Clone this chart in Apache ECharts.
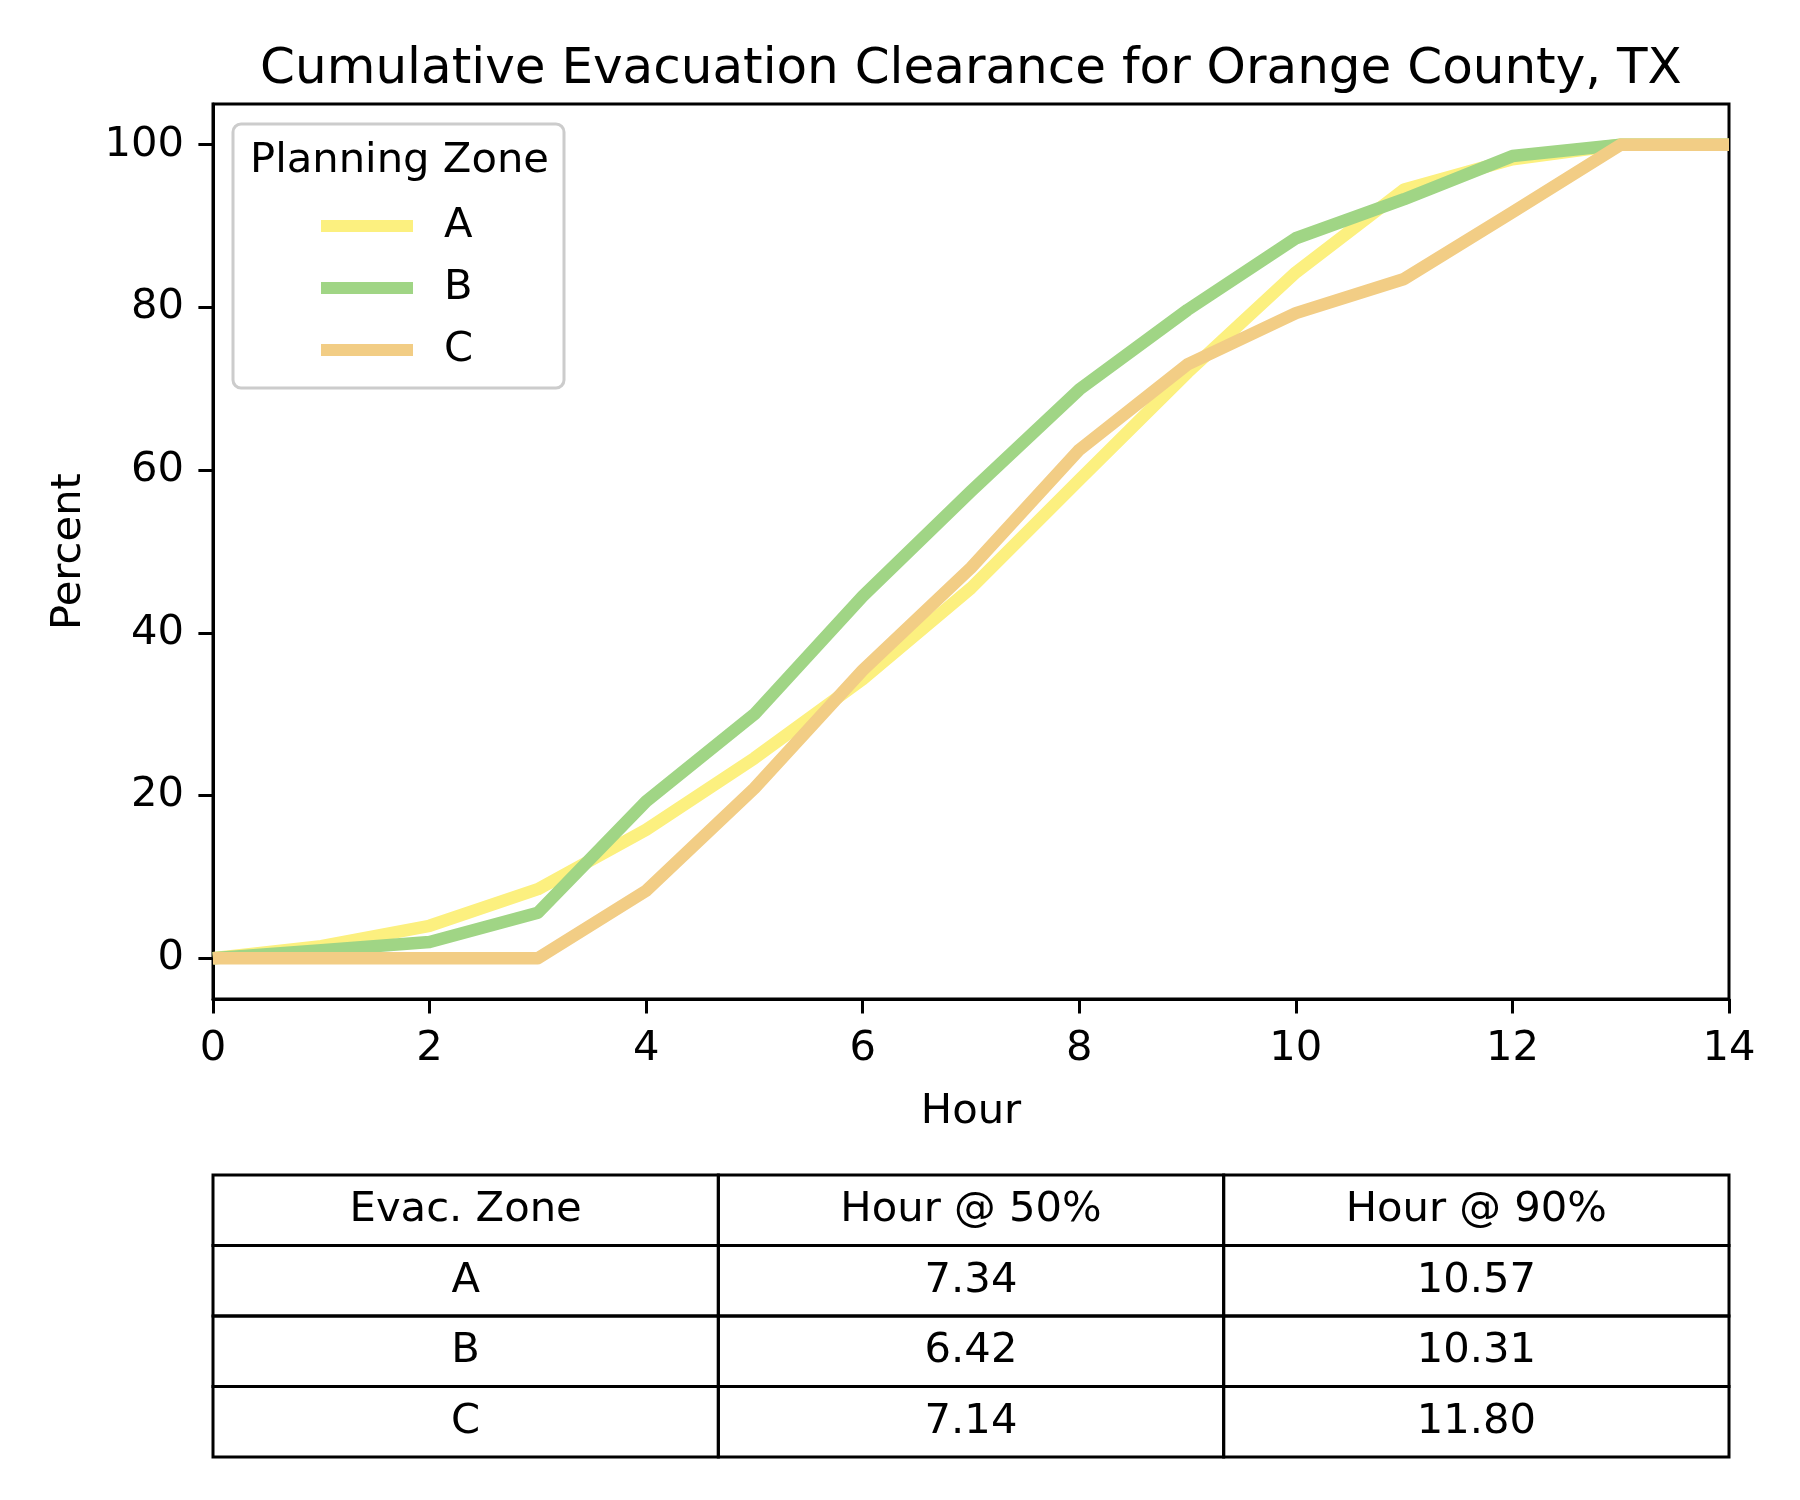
<!DOCTYPE html>
<html>
<head>
<meta charset="utf-8">
<script src="https://cdn.jsdelivr.net/npm/echarts@6/dist/echarts.min.js"></script>
<style>
html,body{margin:0;padding:0;background:#fff;}
#chart{width:1800px;height:1500px;}
</style>
</head>
<body>
<div id="chart"></div>
<script>
// ---- data ----
const hours = [0,1,2,3,4,5,6,7,8,9,10,11,12,13,14];
const zoneNames = ['A','B','C'];
const zoneA = [0,1.5,4,8.5,15.8,24.6,34.3,45.5,58.8,72,84.3,94.5,98.2,100,100];
const zoneB = [0,1,2,5.6,19.3,30,44.5,57.4,69.9,79.7,88.5,93.3,98.6,100,100];
const zoneC = [0,0,0,0,8.3,20.9,35.4,48,62.5,73,79.3,83.5,91.7,100,100];
const yTicks = [0,20,40,60,80,100];
const tableHeader = ['Evac. Zone','Hour @ 50%','Hour @ 90%'];
const tableZones = ['A','B','C'];
const hour50 = ['7.34','6.42','7.14'];
const hour90 = ['10.57','10.31','11.80'];

// ---- styling ----
const FONT = 'DejaVu Sans';
const colors = ['#fcf07f','#a0d585','#f2cd85'];
const fs = 41.7;
const plotL = 213, plotR = 1729, plotT = 104, plotB = 999;

function pairs(vals){ return hours.map((h,i)=>[h, vals[i]]); }
const seriesVals = [zoneA, zoneB, zoneC];

// table graphic built from arrays
const tTop = 1175, tBot = 1457, tL = plotL, tR = plotR;
const rows = [tableHeader].concat(tableZones.map((z,i)=>[z, hour50[i], hour90[i]]));
const rowH = (tBot - tTop) / rows.length;
const colW = (tR - tL) / 3;
const tableGraphics = [];
rows.forEach((r, ri) => {
  r.forEach((cell, ci) => {
    tableGraphics.push({
      type: 'rect',
      shape: {x: tL + ci*colW, y: tTop + ri*rowH, width: colW, height: rowH},
      style: {fill: 'none', stroke: '#000', lineWidth: 3},
      z: 10
    });
    tableGraphics.push({
      type: 'text',
      x: tL + ci*colW + colW/2,
      y: tTop + ri*rowH + rowH/2,
      style: {text: cell, font: fs + 'px "' + FONT + '"', fill: '#000', align: 'center', verticalAlign: 'middle'},
      z: 11
    });
  });
});

const chart = echarts.init(document.getElementById('chart'), null, {renderer: 'canvas'});
chart.setOption({
  backgroundColor: '#fff',
  animation: false,
  textStyle: {fontFamily: FONT, color: '#000'},
  title: {
    text: 'Cumulative Evacuation Clearance for Orange County, TX',
    left: (plotL + plotR)/2 - 5, top: 40, textAlign: 'center',
    textStyle: {fontFamily: FONT, fontSize: 50, fontWeight: 'normal', color: '#000'}
  },
  grid: {
    left: plotL, top: plotT, width: plotR - plotL, height: plotB - plotT,
    show: true, borderColor: '#000', borderWidth: 3, backgroundColor: 'transparent'
  },
  legend: {
    data: zoneNames,
    orient: 'vertical',
    left: 316, top: 196,
    itemWidth: 92, itemHeight: 12, itemGap: 12,
    icon: 'rect',
    textStyle: {fontFamily: FONT, fontSize: fs, color: '#000', lineHeight: 50, padding: [0,0,0,26]},
    z: 20
  },
  xAxis: {
    type: 'value', min: 0, max: 14, interval: 2,
    name: 'Hour', nameLocation: 'middle', nameGap: 92,
    nameTextStyle: {fontFamily: FONT, fontSize: fs, color: '#000'},
    axisLine: {show: true, onZero: false, lineStyle: {color: '#000', width: 3}},
    axisTick: {show: true, length: 14.6, lineStyle: {color: '#000', width: 3}},
    axisLabel: {fontFamily: FONT, fontSize: fs, color: '#000', margin: 29},
    splitLine: {show: false}
  },
  yAxis: {
    type: 'value', min: -5, max: 105,
    name: 'Percent', nameLocation: 'middle', nameGap: 123,
    nameTextStyle: {fontFamily: FONT, fontSize: fs, color: '#000'},
    axisLine: {show: true, onZero: false, lineStyle: {color: '#000', width: 3}},
    axisLabel: {fontFamily: FONT, fontSize: fs, color: '#000', margin: 29, customValues: yTicks},
    axisTick: {show: true, length: 14.6, lineStyle: {color: '#000', width: 3}, customValues: yTicks},
    splitLine: {show: false}
  },
  graphic: [
    {
      type: 'rect',
      shape: {x: 233, y: 124, width: 331, height: 264, r: 8},
      style: {fill: 'rgba(255,255,255,0.8)', stroke: '#cccccc', lineWidth: 3},
      z: 15
    },
    {
      type: 'text',
      x: 250, y: 161,
      style: {text: 'Planning Zone', font: fs + 'px "' + FONT + '"', fill: '#000', verticalAlign: 'middle'},
      z: 16
    }
  ].concat(tableGraphics),
  series: zoneNames.map((n, i) => ({
    name: n,
    type: 'line',
    data: pairs(seriesVals[i]),
    showSymbol: false,
    symbol: 'none',
    clip: true,
    color: colors[i],
    lineStyle: {color: colors[i], width: 12.5, cap: 'butt', join: 'round'},
    z: 2 + i
  }))
});
</script>
</body>
</html>
